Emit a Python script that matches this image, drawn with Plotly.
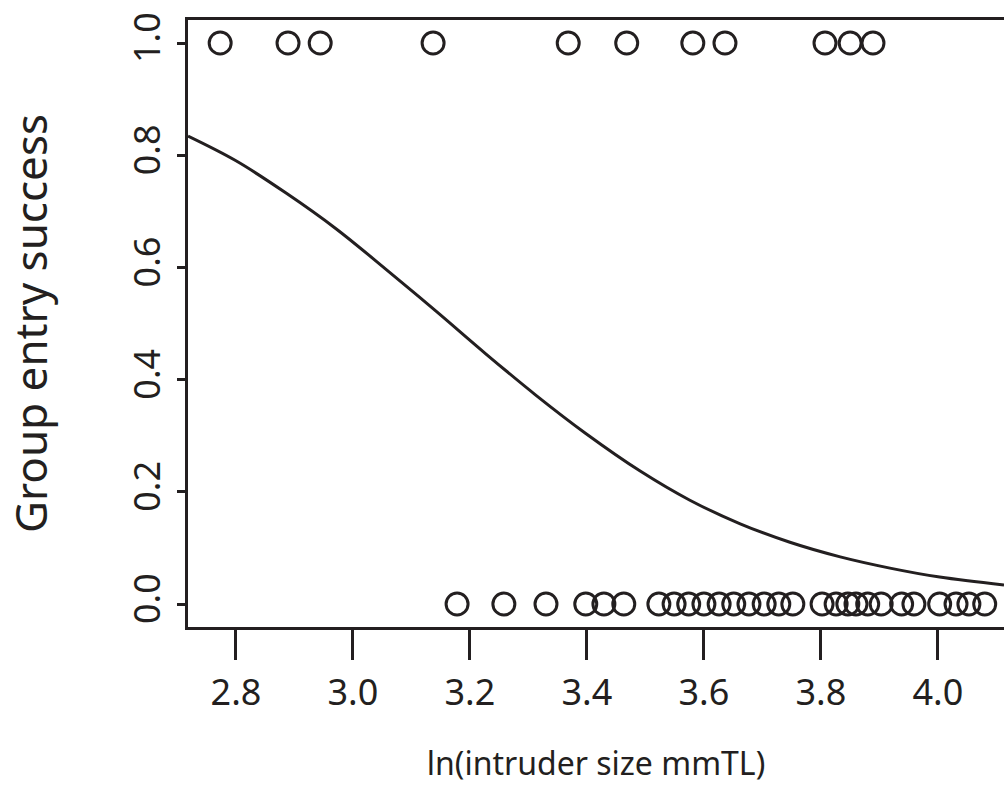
import plotly.graph_objects as go

# Observed data (ln intruder size, success 0/1)
x_success = [2.773, 2.889, 2.944, 3.137, 3.368, 3.468, 3.581, 3.636, 3.807, 3.850, 3.889]
x_fail = [3.178, 3.258, 3.330, 3.398, 3.429, 3.463, 3.523, 3.549, 3.574, 3.600,
          3.626, 3.651, 3.677, 3.703, 3.728, 3.752, 3.802, 3.826, 3.846, 3.860,
          3.880, 3.903, 3.938, 3.959, 4.003, 4.031, 4.053, 4.080]

# Fitted curve
curve_x = [2.718, 2.800, 2.885, 2.971, 3.056, 3.142, 3.227, 3.313, 3.398, 3.491,
           3.576, 3.662, 3.747, 3.833, 3.918, 4.003, 4.113]
curve_y = [0.834, 0.790, 0.733, 0.669, 0.597, 0.522, 0.446, 0.372, 0.304, 0.237,
           0.185, 0.143, 0.110, 0.084, 0.064, 0.048, 0.034]

x_ticks = [2.8, 3.0, 3.2, 3.4, 3.6, 3.8, 4.0]
x_tick_labels = ["2.8", "3.0", "3.2", "3.4", "3.6", "3.8", "4.0"]
y_ticks = [0.0, 0.2, 0.4, 0.6, 0.8, 1.0]
y_tick_labels = ["0.0", "0.2", "0.4", "0.6", "0.8", "1.0"]

INK = "#231f20"
FONT = "Noto Sans"

fig = go.Figure()
fig.add_trace(go.Scatter(
    x=curve_x, y=curve_y, mode="lines",
    line=dict(color=INK, width=3, shape="spline", smoothing=1.0),
    showlegend=False, hoverinfo="skip"))
fig.add_trace(go.Scatter(
    x=x_success, y=[1] * len(x_success), mode="markers",
    marker=dict(symbol="circle-open", size=22, color=INK, line=dict(width=3, color=INK)),
    showlegend=False, cliponaxis=False))
fig.add_trace(go.Scatter(
    x=x_fail, y=[0] * len(x_fail), mode="markers",
    marker=dict(symbol="circle-open", size=22, color=INK, line=dict(width=3, color=INK)),
    showlegend=False, cliponaxis=False))

fig.update_layout(
    width=1004, height=805,
    margin=dict(l=188, r=0, t=20, b=178),
    paper_bgcolor="white", plot_bgcolor="white",
    font=dict(family=FONT, color=INK, size=30),
    xaxis=dict(
        range=[2.718, 4.113], tickvals=x_ticks, ticktext=x_tick_labels,
        showgrid=False, zeroline=False,
        showline=True, linecolor=INK, linewidth=3, mirror=True,
        ticks="outside", ticklen=30, tickwidth=3, tickcolor=INK,
        ticklabelstandoff=2,
        tickfont=dict(size=36, family=FONT, color=INK),
        title=dict(text="ln(intruder size mmTL)", font=dict(size=32, family=FONT, color=INK), standoff=38),
    ),
    yaxis=dict(
        range=[-0.041, 1.041], tickvals=y_ticks, ticktext=y_tick_labels,
        showgrid=False, zeroline=False,
        showline=True, linecolor=INK, linewidth=3, mirror=False,
        ticks="outside", ticklen=8, tickwidth=3, tickcolor=INK,
        tickangle=-90, ticklabelstandoff=3,
        tickfont=dict(size=36, family=FONT, color=INK),
        title=dict(text="Group entry success", font=dict(size=44, family=FONT, color=INK), standoff=72),
    ),
)

fig.write_html(
    "out.html",
    config={"displayModeBar": False},
    post_script="document.body.style.margin='0';document.body.style.overflow='hidden';",
)
